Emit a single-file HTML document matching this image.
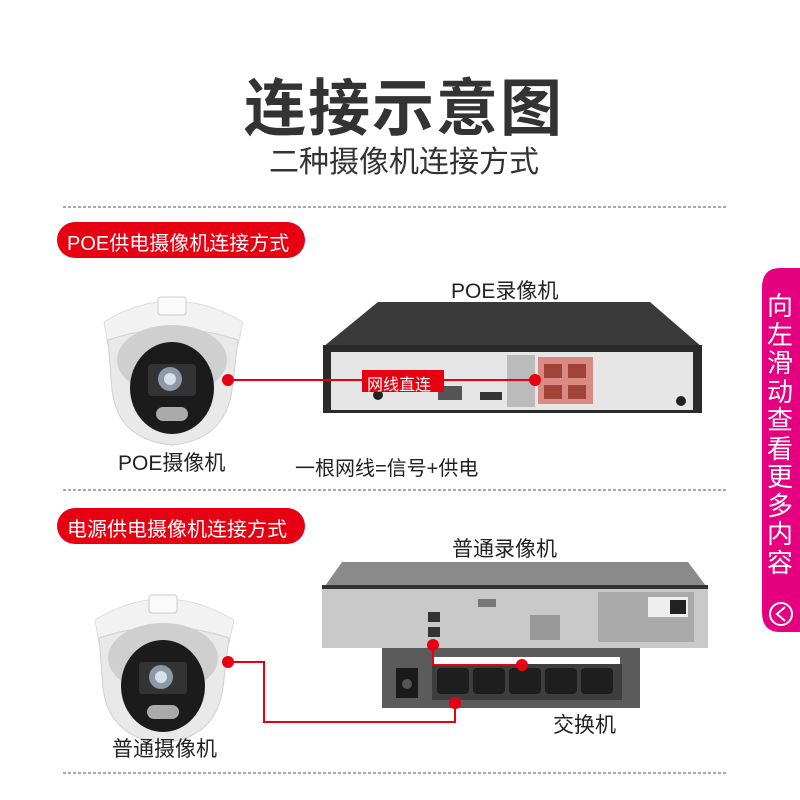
<!DOCTYPE html>
<html><head><meta charset="utf-8"><style>
body{margin:0;width:800px;height:800px;background:#fff;overflow:hidden;position:relative;font-family:"Liberation Sans","Noto Sans CJK SC",sans-serif}
.t{position:absolute;white-space:nowrap;color:#222}
</style></head><body>
<svg width="800" height="800" style="position:absolute;left:0;top:0">
<defs>
<g id="cam">
 <path d="M104 322 Q172 280 243 322 L238 345 Q172 325 108 345 Z" fill="#f2f2f2" stroke="#ddd"/>
 <rect x="158" y="297" width="28" height="18" rx="3" fill="#fafafa" stroke="#ccc"/>
 <path d="M108 340 Q172 318 238 340 L232 390 Q225 440 172 445 Q118 440 112 390 Z" fill="#e9e9e9" stroke="#d0d0d0"/>
 <ellipse cx="172" cy="360" rx="55" ry="35" fill="#cfcfcf"/>
 <ellipse cx="172" cy="388" rx="42" ry="46" fill="#1b1b1b"/>
 <rect x="148" y="364" width="48" height="32" rx="3" fill="#333"/>
 <circle cx="170" cy="379" r="12" fill="#8c9aa8"/>
 <circle cx="170" cy="379" r="6" fill="#d8e0ea"/>
 <rect x="156" y="407" width="32" height="14" rx="7" fill="#aaa"/>
</g>
</defs>
<g stroke="#555" stroke-dasharray="3,2" stroke-width="1">
 <line x1="63" y1="207" x2="728" y2="207"/><line x1="63" y1="490" x2="728" y2="490"/><line x1="63" y1="773" x2="728" y2="773"/>
</g>
<rect x="57" y="222" width="248" height="36" rx="18" fill="#e60012"/>
<rect x="57" y="508" width="248" height="36" rx="18" fill="#e60012"/>
<path d="M800 268 L780 268 Q762 268 762 288 L762 612 Q762 632 780 632 L800 632 Z" fill="#e4007f"/>
<circle cx="781" cy="614" r="11" fill="none" stroke="#fff" stroke-width="2"/>
<path d="M785 607 L777 614 L785 621" fill="none" stroke="#fff" stroke-width="2"/>
<use href="#cam"/>
<use href="#cam" transform="translate(-9,298)"/>
<path d="M323 347 L378 302 L650 302 L702 347 Z" fill="#3a3a3a"/>
<rect x="323" y="345" width="379" height="68" fill="#2a2a2a"/>
<rect x="331" y="352" width="362" height="58" fill="#e6e6e6"/>
<rect x="507" y="355" width="28" height="52" fill="#bbb"/>
<rect x="538" y="357" width="55" height="47" fill="#d98a82"/>
<rect x="544" y="364" width="18" height="14" fill="#a0443a"/><rect x="568" y="364" width="18" height="14" fill="#a0443a"/>
<rect x="544" y="385" width="18" height="14" fill="#a0443a"/><rect x="568" y="385" width="18" height="14" fill="#a0443a"/>
<rect x="438" y="386" width="24" height="14" fill="#555"/><rect x="480" y="392" width="22" height="8" fill="#333"/>
<circle cx="407" cy="377" r="7" fill="#666"/><circle cx="378" cy="395" r="5" fill="#222"/><circle cx="681" cy="401" r="5" fill="#222"/>
<line x1="228" y1="380" x2="535" y2="380" stroke="#e60012" stroke-width="2"/>
<circle cx="228" cy="380" r="6" fill="#e60012"/><circle cx="535" cy="380" r="6" fill="#e60012"/>
<rect x="362" y="370" width="82" height="22" fill="#e60012"/>
<path d="M325 586 L342 562 L688 562 L706 586 Z" fill="#8a8a8a"/>
<rect x="322" y="585" width="386" height="63" fill="#c9c9c9"/>
<rect x="322" y="585" width="386" height="4" fill="#333"/>
<rect x="598" y="592" width="96" height="50" fill="#aaa"/>
<rect x="648" y="597" width="40" height="20" fill="#eee"/><rect x="670" y="600" width="16" height="14" fill="#222"/>
<rect x="428" y="612" width="12" height="10" fill="#333"/><rect x="428" y="627" width="12" height="10" fill="#333"/>
<rect x="478" y="599" width="18" height="8" fill="#777"/><rect x="530" y="615" width="30" height="25" fill="#999"/>
<rect x="382" y="648" width="258" height="60" fill="#5b5b5b"/>
<rect x="432" y="657" width="188" height="7" fill="#fff"/>
<rect x="432" y="664" width="190" height="36" fill="#3e3e3e"/>
<rect x="396" y="668" width="22" height="30" fill="#1a1a1a"/><circle cx="407" cy="684" r="5" fill="#555"/>
<g fill="#1e1e1e"><rect x="437" y="668" width="32" height="26" rx="4"/><rect x="473" y="668" width="32" height="26" rx="4"/><rect x="509" y="668" width="32" height="26" rx="4"/><rect x="545" y="668" width="32" height="26" rx="4"/><rect x="581" y="668" width="32" height="26" rx="4"/></g>
<g fill="none" stroke="#e60012" stroke-width="2">
 <polyline points="433,645 433,665 522,665"/>
 <polyline points="228,662 264,662 264,722 455,722 455,703"/>
</g>
<g fill="#e60012"><circle cx="433" cy="645" r="6"/><circle cx="522" cy="665" r="6"/><circle cx="455" cy="703" r="6"/><circle cx="228" cy="662" r="6"/></g>
</svg>
<div class="t" style="left:0;width:808px;text-align:center;top:70px;font-size:62px;line-height:80px;font-weight:bold;color:#333;letter-spacing:2px">连接示意图</div>
<div class="t" style="left:0;width:808px;text-align:center;top:143px;font-size:30px;line-height:40px;color:#333">二种摄像机连接方式</div>
<div class="t" style="left:67px;top:227px;font-size:20px;color:#fff">POE供电摄像机连接方式</div>
<div class="t" style="left:67px;top:513px;font-size:20px;color:#fff">电源供电摄像机连接方式</div>
<div class="t" style="left:451px;top:275px;font-size:21px">POE录像机</div>
<div class="t" style="left:367px;top:371px;font-size:16px;color:#fff">网线直连</div>
<div class="t" style="left:118px;top:447px;font-size:21px">POE摄像机</div>
<div class="t" style="left:295px;top:452px;font-size:20px">一根网线=信号+供电</div>
<div class="t" style="left:452px;top:533px;font-size:21px">普通录像机</div>
<div class="t" style="left:553px;top:709px;font-size:21px">交换机</div>
<div class="t" style="left:112px;top:733px;font-size:21px">普通摄像机</div>
<div class="t" style="left:767px;top:292px;width:28px;font-size:26px;line-height:28.5px;color:#fff;white-space:normal">向左滑动查看更多内容</div>
</body></html>
